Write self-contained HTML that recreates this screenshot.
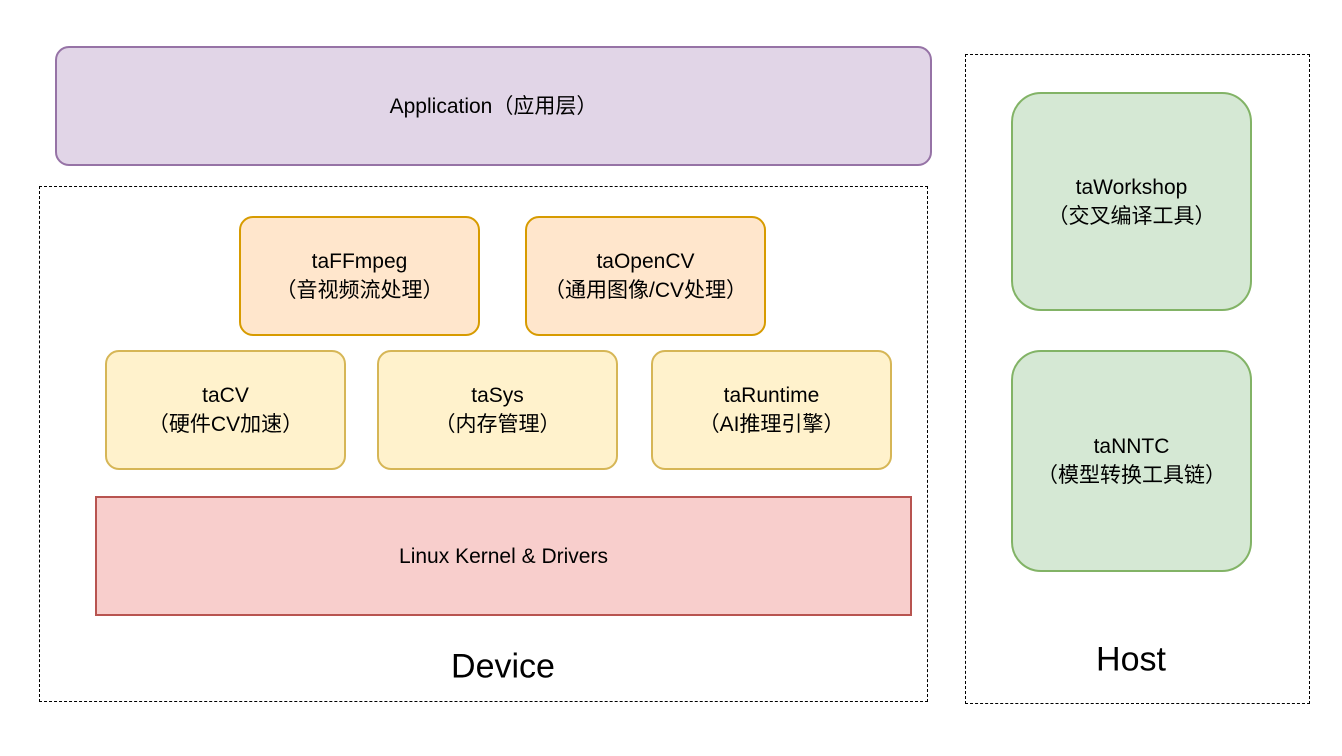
<!DOCTYPE html>
<html><head><meta charset="utf-8"><style>
body{margin:0;width:1342px;height:756px;background:#fff;position:relative;overflow:hidden;font-family:"Liberation Sans","Noto Sans CJK SC",sans-serif;color:#000}
.b{position:absolute;box-sizing:border-box;display:flex;align-items:center;justify-content:center;text-align:center;font-size:21px;line-height:29px}
.d{position:absolute;box-sizing:border-box;border:1.5px dashed #000}
.o{background:#ffe6cc;border:2px solid #d79b00;border-radius:14px}
.y{background:#fff2cc;border:2px solid #d6b656;border-radius:14px}
.g{background:#d5e8d4;border:2px solid #82b366;border-radius:30px}
.t{position:absolute;font-size:34px;transform:translate(-50%,-50%);white-space:nowrap}
</style></head><body>
<div class="b" style="left:55px;top:46px;width:877px;height:120px;background:#e1d5e7;border:2px solid #9673a6;border-radius:14px">Application（应用层）</div>
<div class="d" style="left:39px;top:186px;width:889px;height:516px"></div>
<div class="b o" style="left:239px;top:216px;width:241px;height:120px">taFFmpeg<br>（音视频流处理）</div>
<div class="b o" style="left:525px;top:216px;width:241px;height:120px">taOpenCV<br>（通用图像/CV处理）</div>
<div class="b y" style="left:105px;top:350px;width:241px;height:120px">taCV<br>（硬件CV加速）</div>
<div class="b y" style="left:377px;top:350px;width:241px;height:120px">taSys<br>（内存管理）</div>
<div class="b y" style="left:651px;top:350px;width:241px;height:120px">taRuntime<br>（AI推理引擎）</div>
<div class="b" style="left:95px;top:496px;width:817px;height:120px;background:#f8cecc;border:2px solid #b85450">Linux Kernel &amp; Drivers</div>
<div class="t" style="left:503px;top:667px">Device</div>
<div class="d" style="left:965px;top:54px;width:345px;height:650px"></div>
<div class="b g" style="left:1011px;top:92px;width:241px;height:219px">taWorkshop<br>（交叉编译工具）</div>
<div class="b g" style="left:1011px;top:350px;width:241px;height:222px">taNNTC<br>（模型转换工具链）</div>
<div class="t" style="left:1131px;top:660px">Host</div>
</body></html>
